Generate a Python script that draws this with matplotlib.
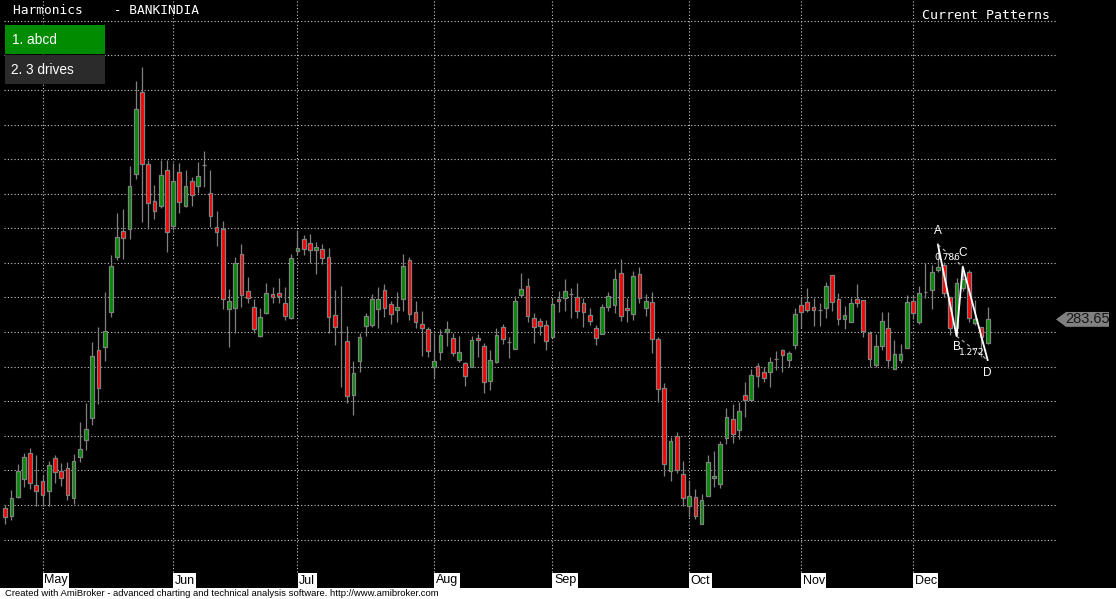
import matplotlib
matplotlib.use("Agg")
import matplotlib.pyplot as plt
from matplotlib.patches import Rectangle, Polygon
import matplotlib.transforms as mtransforms
import numpy as np

# daily bars, Apr (last days) .. Dec
opens = [229.0, 226.9, 232.2, 237.4, 244.9, 235.7, 236.9, 234.0, 243.5, 239.7,
         240.6, 231.9, 243.8, 248.7, 255.1, 274.8, 275.8, 285.7, 301.8, 309.3,
         309.7, 325.6, 349.4, 328.5, 317.8, 316.5, 326.8, 310.7, 326.2, 316.5,
         323.6, 322.1, 328.3, 320.1, 310.3, 309.7, 286.6, 286.8, 302.7, 291.8,
         287.1, 278.8, 285.4, 290.9, 291.2, 288.3, 284.0, 303.3, 306.9, 305.6,
         303.6, 303.9, 301.6, 284.8, 280.1, 277.3, 261.7, 271.7, 281.7, 281.9,
         286.7, 292.1, 288.0, 286.3, 289.5, 300.7, 285.7, 282.2, 280.8, 269.8,
         274.1, 279.9, 278.2, 271.8, 271.0, 269.8, 278.2, 275.9, 265.8, 271.2,
         281.4, 277.0, 275.0, 290.6, 293.2, 284.0, 283.1, 281.9, 278.5, 289.6,
         289.7, 291.1, 290.0, 288.3, 284.8, 281.1, 279.3, 287.1, 287.7, 297.0,
         286.8, 285.1, 296.7, 286.8, 288.6, 277.9, 263.7, 239.7, 249.9, 238.9,
         229.8, 232.2, 224.4, 232.5, 237.7, 236.0, 249.3, 254.8, 251.8, 261.8,
         260.3, 270.1, 268.4, 268.4, 272.1, 274.7, 271.8, 276.2, 287.7, 288.6,
         287.1, 286.3, 286.8, 296.4, 289.5, 283.7, 282.8, 289.5, 289.2, 279.6,
         270.4, 275.9, 281.1, 269.2, 271.8, 275.3, 288.9, 282.8, 291.5, 292.1,
         297.9, 299.4, 290.0, 281.1, 292.6, 297.3, 282.5, 281.4, 276.9]
highs = [230.0, 234.3, 241.9, 245.0, 246.4, 244.5, 238.7, 242.8, 244.5, 242.1,
         242.4, 244.7, 254.1, 259.4, 277.1, 281.4, 291.6, 302.3, 314.3, 315.7,
         328.0, 352.5, 356.7, 329.7, 322.5, 329.7, 329.7, 328.8, 328.8, 326.8,
         324.9, 329.2, 332.3, 326.8, 315.0, 312.1, 292.3, 301.8, 305.4, 295.9,
         289.5, 286.8, 294.1, 293.0, 295.6, 293.0, 302.5, 309.5, 308.0, 308.3,
         306.0, 305.4, 304.4, 292.1, 293.3, 281.7, 271.6, 279.6, 285.6, 291.0,
         293.0, 293.8, 289.0, 291.5, 302.5, 301.6, 289.0, 286.1, 281.5, 279.7,
         280.9, 283.2, 279.8, 278.8, 271.4, 278.8, 279.4, 276.7, 274.8, 281.1,
         282.2, 278.6, 290.5, 297.1, 295.5, 285.4, 284.1, 283.5, 289.7, 291.8,
         295.2, 292.7, 294.2, 289.7, 286.8, 281.9, 288.1, 291.5, 298.2, 301.1,
         289.7, 297.6, 298.8, 290.9, 291.5, 278.5, 265.2, 249.6, 251.1, 242.7,
         237.2, 234.6, 233.1, 244.5, 245.6, 248.5, 258.0, 259.3, 259.8, 265.6,
         269.4, 271.1, 269.8, 272.9, 274.6, 275.2, 274.6, 286.8, 289.7, 292.6,
         289.7, 288.3, 294.4, 296.6, 291.2, 287.4, 289.7, 293.9, 289.3, 280.4,
         279.4, 285.9, 285.9, 277.6, 276.4, 290.6, 290.6, 293.2, 299.9, 299.4,
         305.3, 300.3, 290.0, 295.5, 298.9, 297.9, 289.2, 281.5, 287.1]
lows = [224.5, 225.5, 232.0, 235.1, 234.5, 229.7, 229.7, 229.7, 236.3, 235.5,
        231.4, 230.3, 242.5, 245.9, 253.1, 259.1, 271.6, 284.4, 300.8, 301.0,
        307.0, 324.2, 311.9, 309.7, 312.7, 315.9, 303.2, 309.5, 314.3, 316.2,
        316.5, 320.1, 322.0, 310.4, 304.9, 286.6, 275.6, 279.8, 287.1, 288.5,
        279.8, 278.7, 285.2, 288.5, 288.5, 283.4, 283.9, 302.3, 302.3, 300.0,
        296.8, 299.6, 279.8, 276.3, 264.2, 259.4, 256.0, 268.5, 278.8, 281.5,
        281.1, 284.4, 282.4, 283.0, 286.1, 283.5, 281.1, 273.1, 272.9, 266.3,
        271.9, 276.0, 273.1, 271.4, 264.5, 269.8, 272.9, 262.3, 263.2, 270.9,
        276.4, 272.6, 275.0, 290.2, 283.0, 276.9, 279.2, 274.8, 278.5, 285.8,
        286.2, 284.1, 284.0, 281.4, 282.1, 276.2, 279.3, 286.1, 285.4, 283.3,
        282.9, 283.4, 288.3, 284.7, 273.8, 259.9, 238.4, 237.0, 239.2, 229.8,
        226.6, 226.0, 224.4, 232.5, 235.3, 235.0, 247.5, 247.8, 249.0, 255.3,
        260.3, 264.2, 265.6, 264.2, 268.9, 268.5, 269.8, 275.2, 281.1, 285.9,
        281.8, 281.8, 284.0, 286.2, 282.0, 280.8, 282.8, 287.1, 278.6, 269.8,
        269.8, 274.8, 269.5, 269.2, 271.0, 275.3, 283.7, 282.2, 289.7, 286.6,
        297.3, 290.0, 279.1, 278.8, 292.0, 283.0, 282.0, 272.9, 276.5]
closes = [226.6, 231.9, 239.8, 243.8, 236.3, 234.0, 232.8, 241.5, 239.5, 237.7,
          232.8, 242.6, 246.1, 251.9, 273.1, 263.7, 280.3, 299.1, 307.4, 307.1,
          322.2, 344.4, 328.5, 317.2, 315.0, 325.3, 309.0, 323.6, 317.5, 322.2,
          319.5, 325.0, 328.3, 313.5, 309.0, 289.5, 289.0, 299.9, 290.6, 289.9,
          280.8, 284.2, 291.2, 290.0, 290.3, 284.5, 301.3, 304.2, 303.9, 303.6,
          304.5, 301.3, 284.2, 281.4, 280.1, 261.5, 268.1, 278.5, 284.7, 289.5,
          289.5, 286.8, 285.2, 287.1, 299.2, 285.3, 283.0, 281.1, 274.4, 271.5,
          279.0, 280.8, 273.8, 274.1, 267.2, 277.6, 277.6, 265.5, 271.8, 279.0,
          277.9, 277.0, 288.9, 292.3, 284.5, 281.4, 281.6, 277.3, 288.0, 288.9,
          291.8, 291.1, 286.0, 285.7, 283.1, 278.2, 287.1, 290.3, 295.2, 284.5,
          286.3, 296.1, 289.7, 288.9, 277.9, 263.4, 241.9, 248.5, 240.2, 231.9,
          232.5, 226.7, 231.4, 242.4, 238.3, 247.6, 255.4, 250.5, 257.2, 260.3,
          267.5, 267.2, 266.6, 271.2, 272.1, 273.3, 273.8, 285.1, 285.7, 286.4,
          286.3, 286.3, 293.4, 288.6, 283.7, 284.8, 288.3, 288.3, 280.2, 272.1,
          275.9, 283.1, 271.8, 273.6, 273.6, 288.6, 285.4, 291.2, 291.5, 297.4,
          298.7, 291.2, 281.1, 294.1, 295.2, 284.0, 283.7, 278.5, 283.65]

month_names = ["May", "Jun", "Jul", "Aug", "Sep", "Oct", "Nov", "Dec"]
month_start = [6, 27, 47, 69, 88, 110, 128, 146]

# current abcd pattern
pat_labels = ["A", "B", "C", "D"]
pat_idx = [150, 153, 154, 158]
pat_val = [305.3, 278.8, 298.9, 271.9]
ratio_ac = "0.786"
ratio_bd = "1.272"

W, H = 1116, 599
fig = plt.figure(figsize=(W / 100, H / 100), dpi=100, facecolor="black")
ax = fig.add_axes([0, 0, 1, 1])
ax.set_facecolor("black")
ax.set_axis_off()

# 6.218 px per bar, first bar at x=5.2px; 10 price units per 34.6 px
bar_px = 6.218
ax.set_xlim(-5.2 / bar_px, (W - 5.2) / bar_px)
ax.set_ylim(202.8, 376.0)


def fx(px):
    return px / W


def fy(py):
    return 1 - py / H


grid_kw = dict(color="#c8c8c8", lw=0.8, linestyle=(0, (1, 2)), zorder=1)
for lvl in range(220, 371, 10):
    ax.plot([-0.2, 169.0], [lvl, lvl], **grid_kw)
for m in month_start:
    ax.plot([m, m], [210.6, 376.0], **grid_kw)

x = np.arange(len(closes))
o = np.array(opens)
c = np.array(closes)
up = c >= o
ax.vlines(x, lows, highs, color="#808080", lw=0.9, zorder=2)
bottom = np.minimum(o, c)
height = np.abs(c - o)
cols = np.where(up, "#008c00", "#ff0000")
ax.bar(x, height, bottom=bottom, width=0.6, color=cols,
       edgecolor="#808080", linewidth=0.9, zorder=3)

# pattern overlay
ax.plot(pat_idx, pat_val, color="white", lw=1.3, zorder=5)
ax.plot([pat_idx[0], pat_idx[2]], [pat_val[0], pat_val[2]], color="#bbbbbb",
        lw=0.8, linestyle=(0, (3, 3)), zorder=5)
ax.plot([pat_idx[1], pat_idx[3]], [pat_val[1], pat_val[3]], color="#bbbbbb",
        lw=0.8, linestyle=(0, (3, 3)), zorder=5)
offs = [9.5, -8, 9.5, -9.5]
for lab, xi, v, dy in zip(pat_labels, pat_idx, pat_val, offs):
    ax.annotate(lab, (xi, v), xytext=(0, dy), textcoords="offset points",
                ha="center", va="center", color="white", fontsize=8.5,
                family="Liberation Sans", zorder=6)
ax.annotate(ratio_ac, ((pat_idx[0] + pat_idx[2]) / 2, (pat_val[0] + pat_val[2]) / 2),
            xytext=(-2, -1.5), textcoords="offset points", ha="center", va="center",
            color="white", fontsize=6.5, family="DejaVu Sans", zorder=6)
ax.annotate(ratio_bd, ((pat_idx[1] + pat_idx[3]) / 2, (pat_val[1] + pat_val[3]) / 2),
            xytext=(0, -3), textcoords="offset points", ha="center", va="center",
            color="white", fontsize=6.5, family="DejaVu Sans", zorder=6)

# last price tag
tr = mtransforms.blended_transform_factory(fig.transFigure, ax.transData)
last = closes[-1]
hh = 2.15
tag = Polygon([(fx(1056), last), (fx(1066), last + hh), (fx(1109), last + hh),
               (fx(1109), last - hh), (fx(1066), last - hh)], closed=True,
              facecolor="#808080", edgecolor="none", transform=tr, zorder=6)
ax.add_patch(tag)
ax.text(fx(1087.5), last, f"{last:.2f}", transform=tr, ha="center", va="center",
        fontsize=10.5, color="#151515", family="Liberation Sans", zorder=7)

# month labels
for name, m in zip(month_names, month_start):
    ax.text(m + 0.25, fy(580.5), name, transform=ax.get_xaxis_transform(),
            ha="left", va="center", fontsize=9, color="black",
            family="Liberation Sans",
            bbox=dict(boxstyle="square,pad=0.12", fc="white", ec="none"), zorder=6)

# header texts and pattern list
fig.text(fx(13), fy(11), "Harmonics    - BANKINDIA", ha="left", va="center",
         color="white", fontsize=9.3, family="DejaVu Sans Mono")
fig.text(fx(921.5), fy(15.5), "Current Patterns", ha="left", va="center",
         color="white", fontsize=9.5, family="DejaVu Sans Mono")
fig.patches.append(Rectangle((fx(5), fy(53.5)), fx(100), 28.5 / H, transform=fig.transFigure,
                             facecolor="#008c00", edgecolor="none", zorder=5))
fig.patches.append(Rectangle((fx(5), fy(83.5)), fx(100), 28.5 / H, transform=fig.transFigure,
                             facecolor="#2b2b2b", edgecolor="none", zorder=5))
fig.text(fx(11.5), fy(39.5), "1. abcd", ha="left", va="center", color="white",
         fontsize=9.8, family="Liberation Sans", zorder=6)
fig.text(fx(11), fy(69.5), "2. 3 drives", ha="left", va="center", color="white",
         fontsize=9.8, family="Liberation Sans", zorder=6)

# footer
fig.patches.append(Rectangle((0, 0), 1, 11.5 / H, transform=fig.transFigure,
                             facecolor="white", edgecolor="none", zorder=5))
fig.text(fx(5), fy(593), "Created with AmiBroker - advanced charting and technical "
         "analysis software. http://www.amibroker.com", ha="left", va="center",
         color="black", fontsize=6.8, family="Liberation Sans", zorder=6)

fig.savefig("out.png", dpi=100, facecolor="black")
